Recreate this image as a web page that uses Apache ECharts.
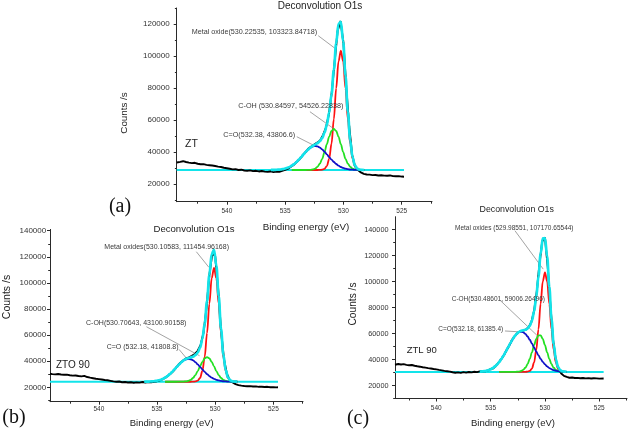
<!DOCTYPE html>
<html><head><meta charset="utf-8">
<script src="https://cdn.jsdelivr.net/npm/echarts@6/dist/echarts.min.js"></script>
<style>html,body{margin:0;padding:0;background:#fff}#c{width:631px;height:432px}</style>
</head><body><div id="c"></div>
<script>
// ---------------- DATA ----------------
const xMajorTicks = [525, 530, 535, 540];
const xMinorTicks = [522.5, 527.5, 532.5, 537.5, 542.5];
const aYTicks = [20000, 40000, 60000, 80000, 100000, 120000];
const aYMinorTicks = [10000, 30000, 50000, 70000, 90000, 110000, 130000];
const bcYTicks = [20000, 40000, 60000, 80000, 100000, 120000, 140000];
const bcYMinorTicks = [10000, 30000, 50000, 70000, 90000, 110000, 130000];

// ---- panel (a) ZT ----
const aExpE = [544.3,544.0,543.75,543.5,543.25,543.0,542.75,542.5,542.25,542.0,541.75,541.5,541.25,541.0,540.75,540.5,540.25,540.0,539.75,539.5,539.25,539.0,538.75,538.5,538.25,538.0,537.75,537.5,537.25,537.0,536.75,536.5,536.25,536.0,535.75,535.5,535.25,535.0,534.75,534.5,534.25,534.0,533.75,533.5,533.25,533.0,532.75,532.5,532.25,532.0,531.75,531.5,531.25,531.0,530.75,530.5,530.25,530.0,529.75,529.5,529.25,529.0,528.75,528.5,528.25,528.0,527.75,527.5,527.25,527.0,526.75,526.5,526.25,526.0,525.75,525.5,525.25,525.0,524.8];
const aExpV = [33500,33900,34300,33800,33400,33100,33300,32700,32400,32500,32000,31800,31600,31300,30900,30700,30200,29900,29600,29200,29300,28800,29000,28500,28300,28600,28100,28300,27900,28200,27800,27600,27900,27500,27800,27600,28200,28900,29700,30800,32100,33900,35600,37900,40000,42200,43500,44700,45900,47300,50600,55200,63400,77200,96500,115500,121800,108500,80000,56000,38200,31000,28800,27300,26400,26000,25900,25600,25700,25400,25500,25300,25200,25400,25000,24900,25000,24700,24600];
const aFitE = [528.22,528.42,528.62,528.82,529.02,529.22,529.42,529.62,529.82,530.02,530.22,530.42,530.62,530.82,531.02,531.22,531.42,531.62,531.82,532.02,532.22,532.42,532.62,532.82,533.02,533.22,533.42,533.62,533.82,534.02,534.22,534.42,534.62,534.82,535.02,535.22,535.42,535.62,535.82,536.02,536.22];
const aRed = [28800,28837,28979,29530,31281,35810,45190,60610,79830,96595,103300,96595,79830,60610,45190,35810,31281,29530,28979,28837,28800,28800,28800,28800,28800,28800,28800,28800,28800,28800,28800,28800];
const aGreen = [28800,28815,28846,28941,29180,29720,30810,32758,35790,39980,44888,49668,53189,54500,53189,49668,44888,39980,35790,32758,30810,29720,29180,28941,28846,28815,28800,28800,28800,28800,28800,28800];
const aBlue = [28808,28815,28830,28859,28907,28986,29117,29321,29627,30071,30684,31500,32535,33810,35280,36885,38565,40200,41655,42810,43545,43800,43545,42810,41655,40200,38565,36885,35280,33810,32535,31500];
const aEnv = [28810,28867,29055,29730,31768,36916,47517,65089,87647,109046,121272,120163,107954,91320,76059,64763,57134,52110,48824,46805,45555,44720,43925,42951,41701,40215,38565,36885,35280,33810,32535,31500,30684,30071,29627,29321,29117,28986,28907,28859,28830];
const aBaseE = [544.3, 524.8];
const aBaseV = 28800;
const aLeaders = [[532.16,112700,530.72,104800],[532.87,65200,530.87,54800],[534.0,49600,532.3,43300]];
const aLabels = ['Metal oxide(530.22535, 103323.84718)','C-OH (530.84597, 54526.22838)','C=O(532.38, 43806.6)'];

// ---- panel (b) ZTO 90 ----
const bExpE = [544.2,544.0,543.75,543.5,543.25,543.0,542.75,542.5,542.25,542.0,541.75,541.5,541.25,541.0,540.75,540.5,540.25,540.0,539.75,539.5,539.25,539.0,538.75,538.5,538.25,538.0,537.75,537.5,537.25,537.0,536.75,536.5,536.25,536.0,535.75,535.5,535.25,535.0,534.75,534.5,534.25,534.0,533.75,533.5,533.25,533.0,532.75,532.5,532.25,532.0,531.75,531.5,531.25,531.0,530.75,530.5,530.25,530.0,529.75,529.5,529.25,529.0,528.75,528.5,528.25,528.0,527.75,527.5,527.25,527.0,526.75,526.5,526.25,526.0,525.75,525.5,525.25,525.0,524.75,524.6];
const bExpV = [30400,30100,29900,30200,29800,29600,29700,29300,29000,29100,28700,28400,28800,27900,27400,27000,26600,26300,26000,25600,25400,25000,24600,24300,24500,23900,24100,23700,23900,23500,23800,23600,24100,23700,24000,23800,24300,24700,25400,26300,27600,29300,31200,33500,36300,38900,40600,42200,43000,44100,45600,48000,52500,62000,80500,106000,122500,120500,96000,64000,42000,30500,25600,23800,22500,21700,21300,21000,20800,20900,20600,20700,20400,20500,20300,20400,20100,20200,20000,20100];
const bFitE = [528.1,528.3,528.5,528.7,528.9,529.1,529.3,529.5,529.7,529.9,530.1,530.3,530.5,530.7,530.9,531.1,531.3,531.5,531.7,531.9,532.1,532.3,532.5,532.7,532.9,533.1,533.3,533.5,533.7,533.9,534.1,534.3,534.5,534.7,534.9,535.1,535.3,535.5,535.7,535.9,536.1];
const bRed = [24300,24344,24509,25154,27202,32501,43473,61513,83998,103607,111450,103607,83998,61513,43473,32501,27202,25154,24509,24344,24300,24300,24300,24300,24300,24300,24300,24300,24300,24300,24300,24300];
const bGreen = [24300,24311,24334,24403,24578,24973,25770,27195,29414,32478,36069,39566,42141,43100,42141,39566,36069,32478,29414,27195,25770,24973,24578,24403,24334,24311,24300,24300,24300,24300,24300,24300];
const bBlue = [24309,24318,24335,24368,24424,24517,24669,24907,25264,25782,26498,27450,28658,30145,31860,33733,35693,37600,39298,40645,41503,41800,41503,40645,39298,37600,35693,33733,31860,30145,28658,27450];
const bEnv = [24309,24373,24578,25325,27604,33391,45312,65015,90076,113267,125417,122023,106197,86158,68874,57200,50364,46632,44621,43584,42973,42473,41781,40748,39332,37611,35693,33733,31860,30145,28658,27450,26498,25782,25264,24907,24669,24517,24424,24368,24335];
const bBaseE = [544.2, 524.6];
const bBaseV = 24300;
const bLeaders = [[531.62,123900,530.54,111950],[535.91,66440,531.34,44200],[533.11,49100,532.34,40900]];
const bLabels = ['Metal oxides(530.10583, 111454.96168)','C-OH(530.70643, 43100.90158)','C=O (532.18, 41808.8)'];

// ---- panel (c) ZTL 90 ----
const cExpE = [543.8,543.5,543.25,543.0,542.75,542.5,542.25,542.0,541.75,541.5,541.25,541.0,540.75,540.5,540.25,540.0,539.75,539.5,539.25,539.0,538.75,538.5,538.25,538.0,537.75,537.5,537.25,537.0,536.75,536.5,536.25,536.0,535.75,535.5,535.25,535.0,534.75,534.5,534.25,534.0,533.75,533.5,533.25,533.0,532.75,532.5,532.25,532.0,531.75,531.5,531.25,531.0,530.75,530.5,530.25,530.0,529.75,529.5,529.25,529.0,528.75,528.5,528.25,528.0,527.75,527.5,527.25,527.0,526.75,526.5,526.25,526.0,525.75,525.5,525.25,525.0,524.6];
const cExpV = [36000,36600,36200,36500,35900,35600,35800,35200,34800,34500,34100,33800,33400,33100,32700,32400,32000,31700,31300,31000,30700,30200,29800,30100,29700,30300,29900,30400,30100,30600,30300,30900,31200,31000,31700,32600,33300,35400,37900,40600,43600,47800,51300,55600,58300,60700,61800,62300,63100,65000,68800,77500,92500,114000,131000,134000,112000,82000,55000,39500,32500,29200,27400,26600,26000,26200,25800,25900,25600,25800,25500,25700,25400,25600,25500,25300,25400];
const cFitE = [528.0,528.2,528.4,528.6,528.8,529.0,529.2,529.4,529.6,529.8,530.0,530.2,530.4,530.6,530.8,531.0,531.2,531.4,531.6,531.8,532.0,532.2,532.4,532.6,532.8,533.0,533.2,533.4,533.6,533.8,534.0,534.2,534.4,534.6,534.8,535.0,535.2,535.4,535.6,535.8,536.0];
const cRed = [30500,30538,30684,31251,33053,37715,47367,63238,83019,100270,107170,100270,83019,63238,47367,37715,33053,31251,30684,30538,30500,30500,30500,30500,30500,30500,30500,30500,30500,30500,30500,30500];
const cGreen = [30509,30529,30591,30759,31164,32028,33664,36400,40447,45577,51077,55865,58630,58630,55865,51077,45577,40447,36400,33664,32028,31164,30759,30591,30529,30509,30500,30500,30500,30500,30500,30500];
const cBlue = [30568,30621,30704,30843,31059,31384,31857,32530,33454,34672,36247,38194,40543,43200,46135,49256,52346,55251,57754,59731,60967,61400,60967,59731,57754,55251,52346,49256,46135,43200,40543,38194];
const cEnv = [30577,30688,30979,31853,34276,40127,51888,71168,95920,119519,133494,133329,121192,104068,88367,77048,69976,65949,63838,62933,62495,62064,61226,59822,57783,55260,52346,49256,46135,43200,40543,38194,36247,34672,33454,32530,31857,31384,31059,30843,30704];
const cBaseE = [543.8, 524.6];
const cBaseV = 30500;
const cLeaders = [[532.76,139200,530.16,109650],[534.14,85700,530.76,58870],[533.68,62000,532.3,61300]];
const cLabels = ['Metal oxides (529.98551, 107170.65544)','C-OH(530.48601, 59006.26496)','C=O(532.18, 61385.4)'];

const titleText = 'Deconvolution O1s';
const xName = 'Binding energy (eV)';
const yName = 'Counts /s';
const sampleNames = ['ZT', 'ZTO 90', 'ZTL 90'];
const panelTags = ['(a)', '(b)', '(c)'];

// ---------------- LAYOUT / STYLE ----------------
const SANS = '"Liberation Sans", Arial, sans-serif';
const SERIF = '"Liberation Serif", "Times New Roman", serif';
const CYAN = '#12e4ea', RED = '#ff1010', GREEN = '#22e022', BLUE = '#1010c8', AX = '#2a2a2a';

const panels = [
  {grid:{left:176.7, top:8, width:255.3, height:193.7}, xMin:522.4, xMax:544.3, yMin:9000, yMax:130000,
   yTicks:aYTicks, yMinor:aYMinorTicks, yLab:8, yMar:7, xLab:6.5, xMar:6.5,
   expE:aExpE, expV:aExpV, fitE:aFitE, red:aRed, green:aGreen, blue:aBlue, env:aEnv, baseE:aBaseE, baseV:aBaseV, leaders:aLeaders},
  {grid:{left:50, top:229.4, width:253, height:172.3}, xMin:522.45, xMax:544.2, yMin:9000, yMax:141000,
   yTicks:bcYTicks, yMinor:bcYMinorTicks, yLab:8, yMar:3.8, xLab:6.5, xMar:4.5,
   expE:bExpE, expV:bExpV, fitE:bFitE, red:bRed, green:bGreen, blue:bBlue, env:bEnv, baseE:bBaseE, baseV:bBaseV, leaders:bLeaders},
  {grid:{left:395, top:216.7, width:232, height:181.8}, xMin:522.45, xMax:543.8, yMin:10000, yMax:150000,
   yTicks:bcYTicks, yMinor:bcYMinorTicks, yLab:7.3, yMar:6.5, xLab:6.5, xMar:6.5,
   expE:cExpE, expV:cExpV, fitE:cFitE, red:cRed, green:cGreen, blue:cBlue, env:cEnv, baseE:cBaseE, baseV:cBaseV, leaders:cLeaders}
];

const grids = [], xAxes = [], yAxes = [], series = [];
panels.forEach((p, i) => {
  grids.push(Object.assign({containLabel:false, outerBoundsMode:'none'}, p.grid));
  const common = {gridIndex:i, type:'value', splitLine:{show:false}};
  xAxes.push(Object.assign({}, common, {
    inverse:true, min:p.xMin, max:p.xMax, position:'bottom',
    axisLine:{show:true, onZero:false, lineStyle:{color:AX, width:1}},
    axisTick:{show:true, customValues:xMajorTicks, length:3, lineStyle:{color:AX}},
    axisLabel:{show:true, customValues:xMajorTicks, fontSize:p.xLab, fontFamily:SANS, color:'#333', margin:p.xMar, formatter:v=>String(v)}
  }));
  xAxes.push(Object.assign({}, common, {
    inverse:true, min:p.xMin, max:p.xMax, position:'bottom',
    axisLine:{show:false, onZero:false}, axisLabel:{show:false},
    axisTick:{show:true, customValues:xMinorTicks, length:2, lineStyle:{color:AX}}
  }));
  yAxes.push(Object.assign({}, common, {
    min:p.yMin, max:p.yMax, position:'left',
    axisLine:{show:true, onZero:false, lineStyle:{color:AX, width:1}},
    axisTick:{show:true, customValues:p.yTicks, length:3, lineStyle:{color:AX}},
    axisLabel:{show:true, customValues:p.yTicks, fontSize:p.yLab, fontFamily:SANS, color:'#333', margin:p.yMar, formatter:v=>String(v)}
  }));
  yAxes.push(Object.assign({}, common, {
    min:p.yMin, max:p.yMax, position:'left',
    axisLine:{show:false, onZero:false}, axisLabel:{show:false},
    axisTick:{show:true, customValues:p.yMinor, length:1.8, lineStyle:{color:AX}}
  }));
  const xi = 2*i, yi = 2*i;
  const base = {type:'line', xAxisIndex:xi, yAxisIndex:yi, symbol:'none', silent:true};
  series.push(Object.assign({}, base, {z:2, data:p.baseE.map(e=>[e, p.baseV]), lineStyle:{color:CYAN, width:2}}));
  series.push(Object.assign({}, base, {z:3, data:p.expE.map((e,k)=>[e, p.expV[k]]), lineStyle:{color:'#000', width:1.9}}));
  [[p.red, RED], [p.green, GREEN], [p.blue, BLUE]].forEach(([arr, col], k) => {
    series.push(Object.assign({}, base, {z:4+k, smooth:0.35, smoothMonotone:'x',
      data:arr.map((v,j)=>[p.fitE[j], v]), lineStyle:{color:col, width:1.8}}));
  });
  series.push(Object.assign({}, base, {z:8, smooth:0.35, smoothMonotone:'x',
    data:p.env.map((v,j)=>[p.fitE[j], v]), lineStyle:{color:CYAN, width:2.7},
    markLine:{silent:true, symbol:['none','none'], label:{show:false}, animation:false,
      lineStyle:{color:'#8c8c8c', width:0.8, type:'solid'},
      data:p.leaders.map(l=>[{coord:[l[0], l[1]]}, {coord:[l[2], l[3]]}])}
  }));
});

function txt(text, x, y, size, opts) {
  opts = opts || {};
  return {type:'text', x:x, y:y, rotation:opts.rot || 0, z:100, silent:true,
    style:{text:text, fontSize:size, fontFamily:opts.family || SANS, fill:opts.color || '#222',
      align:opts.align || 'center', verticalAlign:'middle',
      textAlign:opts.align || 'center', textVerticalAlign:'middle'}};
}
const labelPos = [
  [[191.7,32.3],[238.3,106],[223.3,135], 7.2],
  [[104.3,247.3],[86,322.7],[106.7,347.3], 7.0],
  [[455,228.3],[451.7,299],[438.3,329.3], 6.5]
];
const labelSets = [aLabels, bLabels, cLabels];
const graphics = [
  txt(titleText, 320, 6.5, 10), txt(titleText, 194, 229, 9.6), txt(titleText, 516.7, 209.3, 8.8),
  txt(xName, 306, 227, 9.8), txt(xName, 171.7, 423.3, 9.5), txt(xName, 513, 423.3, 9.5),
  txt(yName, 124, 113, 9.8, {rot:Math.PI/2}), txt(yName, 7.5, 297, 10.5, {rot:Math.PI/2}), txt(yName, 353.5, 304, 10.2, {rot:Math.PI/2}),
  txt(sampleNames[0], 185, 144, 10.5, {align:'left'}), txt(sampleNames[1], 56, 365.5, 10, {align:'left'}), txt(sampleNames[2], 406.7, 350, 9.5, {align:'left'}),
  txt(panelTags[0], 120, 207, 20, {family:SERIF, color:'#111'}), txt(panelTags[1], 14, 418, 20, {family:SERIF, color:'#111'}), txt(panelTags[2], 358, 419, 20, {family:SERIF, color:'#111'})
];
labelSets.forEach((set, i) => {
  set.forEach((t, k) => graphics.push(txt(t, labelPos[i][k][0], labelPos[i][k][1], labelPos[i][3], {align:'left', color:'#3a3a3a'})));
});

const chart = echarts.init(document.getElementById('c'), null, {renderer:'canvas'});
chart.setOption({
  animation:false,
  backgroundColor:'#ffffff',
  grid:grids, xAxis:xAxes, yAxis:yAxes, series:series,
  graphic:{elements:graphics}
});
</script></body></html>
